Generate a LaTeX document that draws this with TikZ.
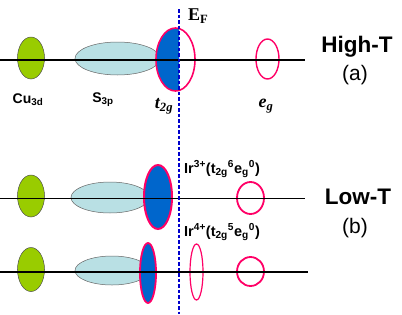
\documentclass[tikz,border=0pt]{standalone}
\usepackage{fontspec}
\setmainfont{Liberation Sans}
\newfontfamily\serifnum{Liberation Serif}
\definecolor{cugreen}{HTML}{99CC00}
\definecolor{spblue}{HTML}{B9E0E4}
\definecolor{tblue}{HTML}{0066CC}
\definecolor{pinkr}{HTML}{FF0066}
\definecolor{efblue}{HTML}{0000CC}
\tikzset{
  cuorb/.style={fill=cugreen,draw=black!70,line width=0.5pt},
  sporb/.style={fill=spblue,draw=black!60,line width=0.5pt},
  pinkline/.style={draw=pinkr,line width=1.6pt},
  level/.style={draw=black,line width=1.3pt},
  fermi/.style={draw=efblue,line width=1.8pt,dash pattern=on 3.5pt off 2pt},
  lab/.style={font=\fontsize{14}{16}\selectfont\bfseries,inner sep=0pt},
  irlab/.style={font=\fontsize{14.5}{16}\selectfont\bfseries,inner sep=0pt,anchor=west},
  phase/.style={font=\fontsize{22.5}{26}\selectfont\bfseries,inner sep=0pt},
  phasel/.style={font=\fontsize{21}{24}\selectfont,inner sep=0pt},
  orblab/.style={font=\fontsize{18}{20}\selectfont\serifnum\bfseries\itshape,inner sep=0pt},
}
\begin{document}
\begin{tikzpicture}[x=1pt,y=-1pt]
\useasboundingbox (0,0) rectangle (402,314);
% ---------- High-T row ----------
\draw[cuorb] (31,58) ellipse [x radius=13.5pt, y radius=21pt];
\draw[sporb] (117.5,58.5) ellipse [x radius=42.5pt, y radius=16.5pt];
\begin{scope}
  \clip (150,20) rectangle (179,100);
  \fill[tblue] (175.5,59.5) ellipse [x radius=19.5pt, y radius=31.5pt];
\end{scope}
\draw[pinkline] (175.5,59.5) ellipse [x radius=19.5pt, y radius=31.5pt];
\draw[pinkr,line width=1.4pt] (267.5,59) ellipse [x radius=11.5pt, y radius=20pt];
\coordinate (a0) at (0,60);
\coordinate (a1) at (305,60);
\draw[level] (a0) -- (a1);
% ---------- Low-T row 1 ----------
\draw[cuorb] (31,196) ellipse [x radius=13.5pt, y radius=21pt];
\draw[sporb] (110,197.5) ellipse [x radius=39pt, y radius=15.5pt];
\draw[fill=tblue,draw=pinkr,line width=2pt] (158,197) ellipse [x radius=14pt, y radius=32pt];
\draw[pinkr,line width=1.8pt] (250.5,198) ellipse [x radius=13.5pt, y radius=16pt];
\coordinate (b0) at (0,198.5);
\coordinate (b1) at (305,198.5);
\draw[level] (b0) -- (b1);
% ---------- Low-T row 2 ----------
\draw[cuorb] (31,269.5) ellipse [x radius=13.5pt, y radius=22pt];
\draw[sporb] (112,270.5) ellipse [x radius=37pt, y radius=14.5pt];
\draw[fill=tblue,draw=pinkr,line width=1.8pt] (148,273) ellipse [x radius=8pt, y radius=30pt];
\draw[pinkr,line width=1.2pt] (196.5,272) ellipse [x radius=6.5pt, y radius=28pt];
\draw[pinkr,line width=1.8pt] (250.5,271.5) ellipse [x radius=13.5pt, y radius=14.5pt];
\coordinate (c0) at (0,272);
\coordinate (c1) at (308,272);
\draw[level] (c0) -- (c1);
% ---------- Fermi level ----------
\coordinate (ef0) at (179,9);
\coordinate (ef1) at (179,314);
\draw[fermi] (ef0) -- (ef1);
% ---------- labels ----------
\node[font=\fontsize{18}{20}\selectfont\serifnum\bfseries,inner sep=0pt,anchor=west] (ef) at (188,16) {E\textsubscript{F}};
\node[lab] (cu) at (28,100) {Cu\textsubscript{3d}};
\node[lab] (sp) at (103,100) {S\textsubscript{3p}};
\node[orblab] (t2g) at (164,106) {t\textsubscript{2g}};
\node[orblab] (eg) at (266,106) {e\textsubscript{g}};
\node[phase] (hi) at (357,47) {High-T};
\node[phasel] (pa) at (355,75) {(a)};
\node[phase] (lo) at (358,197) {Low-T};
\node[phasel] (pb) at (355,228) {(b)};
\node[irlab] (ir3) at (184,169) {Ir\textsuperscript{3+}(t\textsubscript{2g}\textsuperscript{6}e\textsubscript{g}\textsuperscript{0})};
\node[irlab] (ir4) at (184,232) {Ir\textsuperscript{4+}(t\textsubscript{2g}\textsuperscript{5}e\textsubscript{g}\textsuperscript{0})};
\end{tikzpicture}
\end{document}
